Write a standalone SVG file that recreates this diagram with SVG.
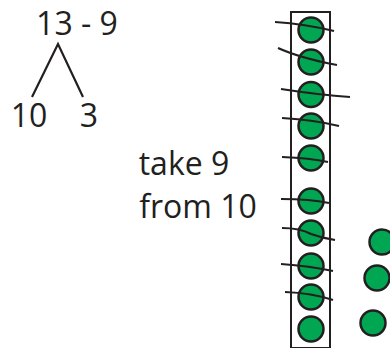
<svg xmlns="http://www.w3.org/2000/svg" width="390" height="348" viewBox="0 0 390 348">
<style>
.t{font-family:"Open Sans","Liberation Sans",sans-serif;font-size:32px;fill:#231f20;text-anchor:middle}
.c{fill:#00a651;stroke:#231f20;stroke-width:2.5}
.s{fill:none;stroke:#231f20;stroke-width:2.2;stroke-linecap:butt}
</style>
<g id="expr"><text class="t" x="77" y="35">13 - 9</text></g>
<g id="ten"><text class="t" x="29" y="126.5">10</text></g>
<g id="three"><text class="t" x="89" y="126.5">3</text></g>
<g id="label"><text class="t" x="184" y="175">take 9</text><text class="t" x="198" y="218">from 10</text></g>
<g id="connectors">
<polyline class="s" points="32,97 58,44 83,97"/>
</g>
<g id="frame"><rect x="291" y="12" width="39" height="336" fill="none" stroke="#231f20" stroke-width="2"/></g>
<g id="beads">
<circle class="c" cx="311" cy="30" r="12.5"/>
<circle class="c" cx="311" cy="62" r="12.5"/>
<circle class="c" cx="311" cy="94.5" r="12.5"/>
<circle class="c" cx="311" cy="126" r="12.5"/>
<circle class="c" cx="311" cy="158" r="12.5"/>
<circle class="c" cx="311" cy="201" r="12.5"/>
<circle class="c" cx="311" cy="233" r="12.5"/>
<circle class="c" cx="311" cy="266" r="12.5"/>
<circle class="c" cx="311" cy="297" r="12.5"/>
<circle class="c" cx="311" cy="329" r="12.5"/>
</g>
<g id="extra">
<circle class="c" cx="382" cy="242" r="12.5"/>
<circle class="c" cx="377" cy="278" r="12.5"/>
<circle class="c" cx="373" cy="323" r="12.5"/>
</g>
<g id="strikes">
<path class="s" d="M275,22 Q305,24 334,31"/>
<path class="s" d="M278,48 Q300,58 337,65"/>
<path class="s" d="M281,89 Q320,95 350,97"/>
<path class="s" d="M282,118 Q315,120 339,126"/>
<path class="s" d="M282,157 Q310,158 328,162"/>
<path class="s" d="M281,199 Q310,199 329,203"/>
<path class="s" d="M282,228 Q300,228 311,234 Q322,238 335,240"/>
<path class="s" d="M281,264 Q310,266 333,271"/>
<path class="s" d="M285,292 Q312,293 333,300"/>
</g>
</svg>
